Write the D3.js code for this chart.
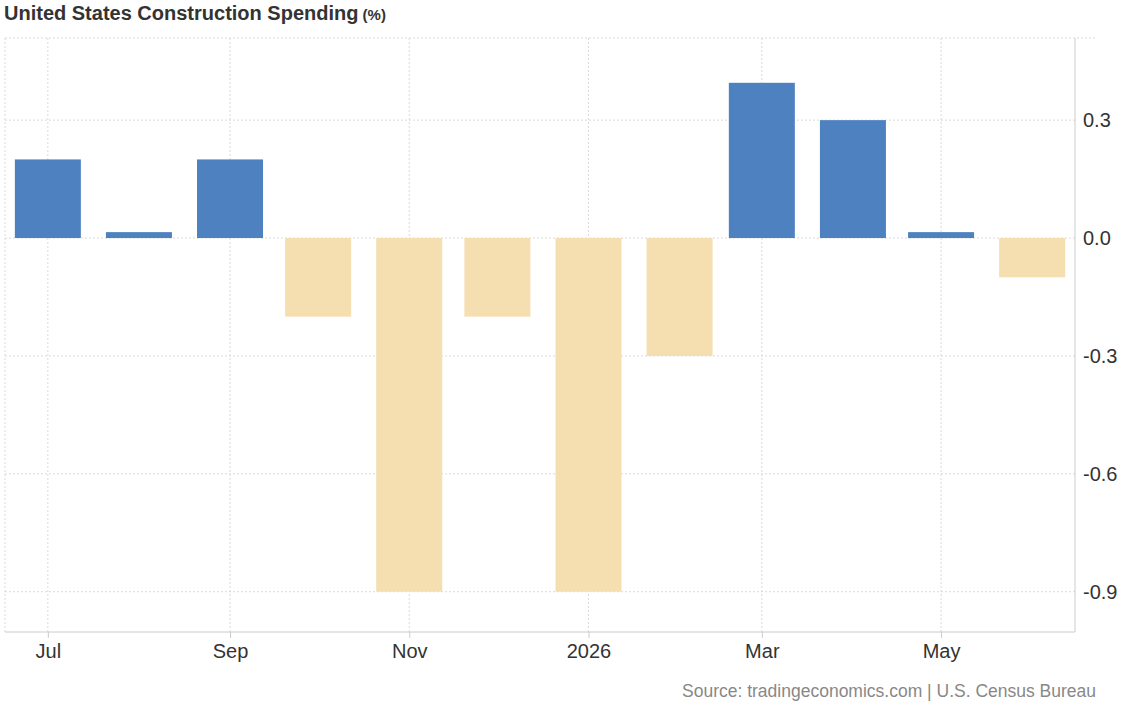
<!DOCTYPE html>
<html><head><meta charset="utf-8">
<script src="https://cdn.jsdelivr.net/npm/d3@7"></script>
<style>body{margin:0;background:#fff;overflow:hidden}svg{font-family:"Liberation Sans",Arial,sans-serif}</style>
</head><body><svg id="c" width="1130" height="704"></svg>
<script>
const months = ["2025-07-01","2025-08-01","2025-09-01","2025-10-01","2025-11-01","2025-12-01","2026-01-01","2026-02-01","2026-03-01","2026-04-01","2026-05-01","2026-06-01"];
const values = [0.2,0.015,0.2,-0.2,-0.9,-0.2,-0.9,-0.3,0.395,0.3,0.015,-0.1];
const yTicks = [0.3,0,-0.3,-0.6,-0.9];
const xTickDates = ["2025-07-01","2025-09-01","2025-11-01","2026-01-01","2026-03-01","2026-05-01"];
const xTickLabels = ["Jul","Sep","Nov","2026","Mar","May"];

const svg = d3.select("#c");
const p = d3.timeParse("%Y-%m-%d");
const x = d3.scaleTime().domain([new Date(2025,5,16,10), new Date(2026,5,15,14)]).range([5,1075]);
const y = d3.scaleLinear().domain([-1.0025,0.509]).range([632,38]);

svg.selectAll(".hg").data(yTicks).join("line").attr("x1",5).attr("x2",1075)
  .attr("y1",d=>y(d)).attr("y2",d=>y(d)).attr("stroke","#d9d9d9").attr("stroke-dasharray","2,2");
svg.append("line").attr("x1",5).attr("x2",1095).attr("y1",38).attr("y2",38).attr("stroke","#d9d9d9").attr("stroke-dasharray","2,2");
svg.selectAll(".vg").data(xTickDates).join("line").attr("x1",d=>x(p(d))).attr("x2",d=>x(p(d)))
  .attr("y1",38).attr("y2",632).attr("stroke","#d9d9d9").attr("stroke-dasharray","2,2");
svg.append("line").attr("x1",5).attr("x2",5).attr("y1",38).attr("y2",632).attr("stroke","#d9d9d9").attr("stroke-dasharray","2,2");
svg.append("line").attr("x1",1075).attr("x2",1075).attr("y1",38).attr("y2",632).attr("stroke","#ccc");
svg.append("line").attr("x1",5).attr("x2",1075).attr("y1",632).attr("y2",632).attr("stroke","#ccc");

const bw = 66;
svg.selectAll(".bar").data(values).join("rect")
  .attr("x",(d,i)=>x(p(months[i]))-bw/2).attr("width",bw)
  .attr("y",d=>y(Math.max(0,d))).attr("height",d=>Math.abs(y(d)-y(0)))
  .attr("fill",d=>d>=0?"#4e81bf":"#f5deb0");

const ya = d3.axisRight(y).tickValues(yTicks).tickSize(0).tickPadding(10).tickFormat(d=>d.toFixed(1));
const gy = svg.append("g").attr("transform","translate(1075,0)").call(ya);
gy.select(".domain").remove();
gy.selectAll("text").attr("font-size",20).attr("fill","#333").attr("x",8);

const xa = d3.axisBottom(x).tickValues(xTickDates.map(p)).tickSize(6).tickFormat((d,i)=>xTickLabels[i]);
const gx = svg.append("g").attr("transform","translate(0,632)").call(xa);
gx.select(".domain").remove();
gx.selectAll("line").attr("stroke","#ccc");
gx.selectAll("text").attr("font-size",20).attr("fill","#333").attr("y",8).attr("dy","0.9em");

const t = svg.append("text").attr("x",4).attr("y",20).attr("font-weight","bold").attr("fill","#333");
t.append("tspan").attr("font-size",20).text("United States Construction Spending");
t.append("tspan").attr("font-size",15).text(" (%)");

svg.append("text").attr("x",682).attr("y",697).attr("font-size",17.5).attr("fill","#888")
  .text("Source: tradingeconomics.com | U.S. Census Bureau");
</script></body></html>
